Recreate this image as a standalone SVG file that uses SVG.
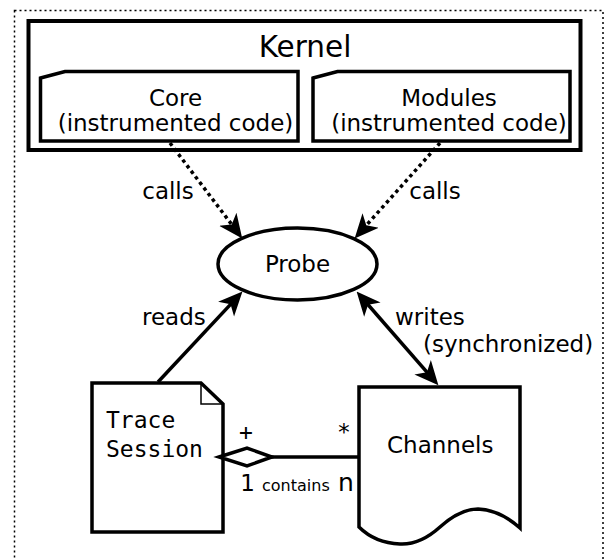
<svg xmlns="http://www.w3.org/2000/svg" width="605" height="560" viewBox="0 0 605 560">
<defs>
<style>
.t{font-family:"DejaVu Sans","Liberation Sans",sans-serif;fill:#000}
.m{font-family:"DejaVu Sans Mono","Liberation Mono",monospace;fill:#000}
.n{fill:#fff;stroke:#000;stroke-width:3.5;stroke-linejoin:miter}
.c{fill:none;stroke:#000;stroke-width:3.5}
.d{stroke-dasharray:3.5 3.5}
</style>
<marker id="ah" markerUnits="userSpaceOnUse" markerWidth="24" markerHeight="24" viewBox="0 0 22 22" refX="16" refY="11" orient="auto-start-reverse">
<path d="M0,1 L22,11 L0,21 L6,11 Z" fill="#000"/>
</marker>
</defs>
<rect width="605" height="560" fill="#fff"/>
<rect x="14.5" y="10.5" width="588.5" height="570" fill="none" stroke="#000" stroke-width="1.5" stroke-dasharray="2 3"/>
<g id="kernel">
<rect x="28.5" y="21" width="552" height="129" fill="#fff" stroke="#000" stroke-width="4"/>
<text class="t" x="305" y="57" font-size="29.5" text-anchor="middle">Kernel</text>
</g>
<g id="core">
<path class="n" d="M40.5,78 L65,71.5 H298 V141 H40.5 Z"/>
<text class="t" x="175.5" y="106" font-size="23" text-anchor="middle">Core</text>
<text class="t" x="175.5" y="131" font-size="23" text-anchor="middle">(instrumented code)</text>
</g>
<g id="modules">
<path class="n" d="M313,78 L337.5,71.5 H570 V141 H313 Z"/>
<text class="t" x="449" y="106" font-size="23" text-anchor="middle">Modules</text>
<text class="t" x="449" y="131" font-size="23" text-anchor="middle">(instrumented code)</text>
</g>
<g id="probe">
<ellipse class="n" cx="297.5" cy="264" rx="79.5" ry="36"/>
<text class="t" x="297.5" y="272" font-size="23" text-anchor="middle">Probe</text>
</g>
<g id="trace-session">
<path class="n" d="M92,383 H201 L223,404 V532 H92 Z"/>
<path d="M201,383 V404 H223" fill="none" stroke="#000" stroke-width="1.5"/>
<text class="m" x="106" y="428" font-size="23">Trace</text>
<text class="m" x="106" y="457" font-size="23">Session</text>
</g>
<g id="channels">
<path class="n" d="M359,387 H520 V528 Q500,510 478,509 Q460,509 440,527 Q420,545 400,544 Q375,543 359,527 Z"/>
<text class="t" x="387" y="453" font-size="23">Channels</text>
</g>
<g id="connectors">
<path class="c d" d="M170,143 L238.3,233.2" marker-end="url(#ah)"/>
<path class="c d" d="M440,143 L359,233.5" marker-end="url(#ah)"/>
<path class="c" d="M158,382 L238,296.4" marker-end="url(#ah)"/>
<path class="c" d="M434.1,380.4 L360.9,296.5" marker-start="url(#ah)" marker-end="url(#ah)"/>
<polygon class="n" points="219,457 247,448 272,457 247,466"/>
<path class="c" d="M272,457 H359"/>
<text class="t" x="168" y="199" font-size="23" text-anchor="middle">calls</text>
<text class="t" x="435" y="199" font-size="23" text-anchor="middle">calls</text>
<text class="t" x="142" y="325" font-size="23">reads</text>
<text class="t" x="395" y="325" font-size="23">writes</text>
<text class="t" x="423" y="352" font-size="23">(synchronized)</text>
<text class="m" x="246" y="440" font-size="23" text-anchor="middle">+</text>
<text class="m" x="344" y="440" font-size="23" text-anchor="middle">*</text>
<text class="t" x="247.5" y="491" font-size="23" text-anchor="middle">1</text>
<text class="t" x="262" y="491" font-size="16">contains</text>
<text class="t" x="338" y="491" font-size="25">n</text>
</g>
</svg>
